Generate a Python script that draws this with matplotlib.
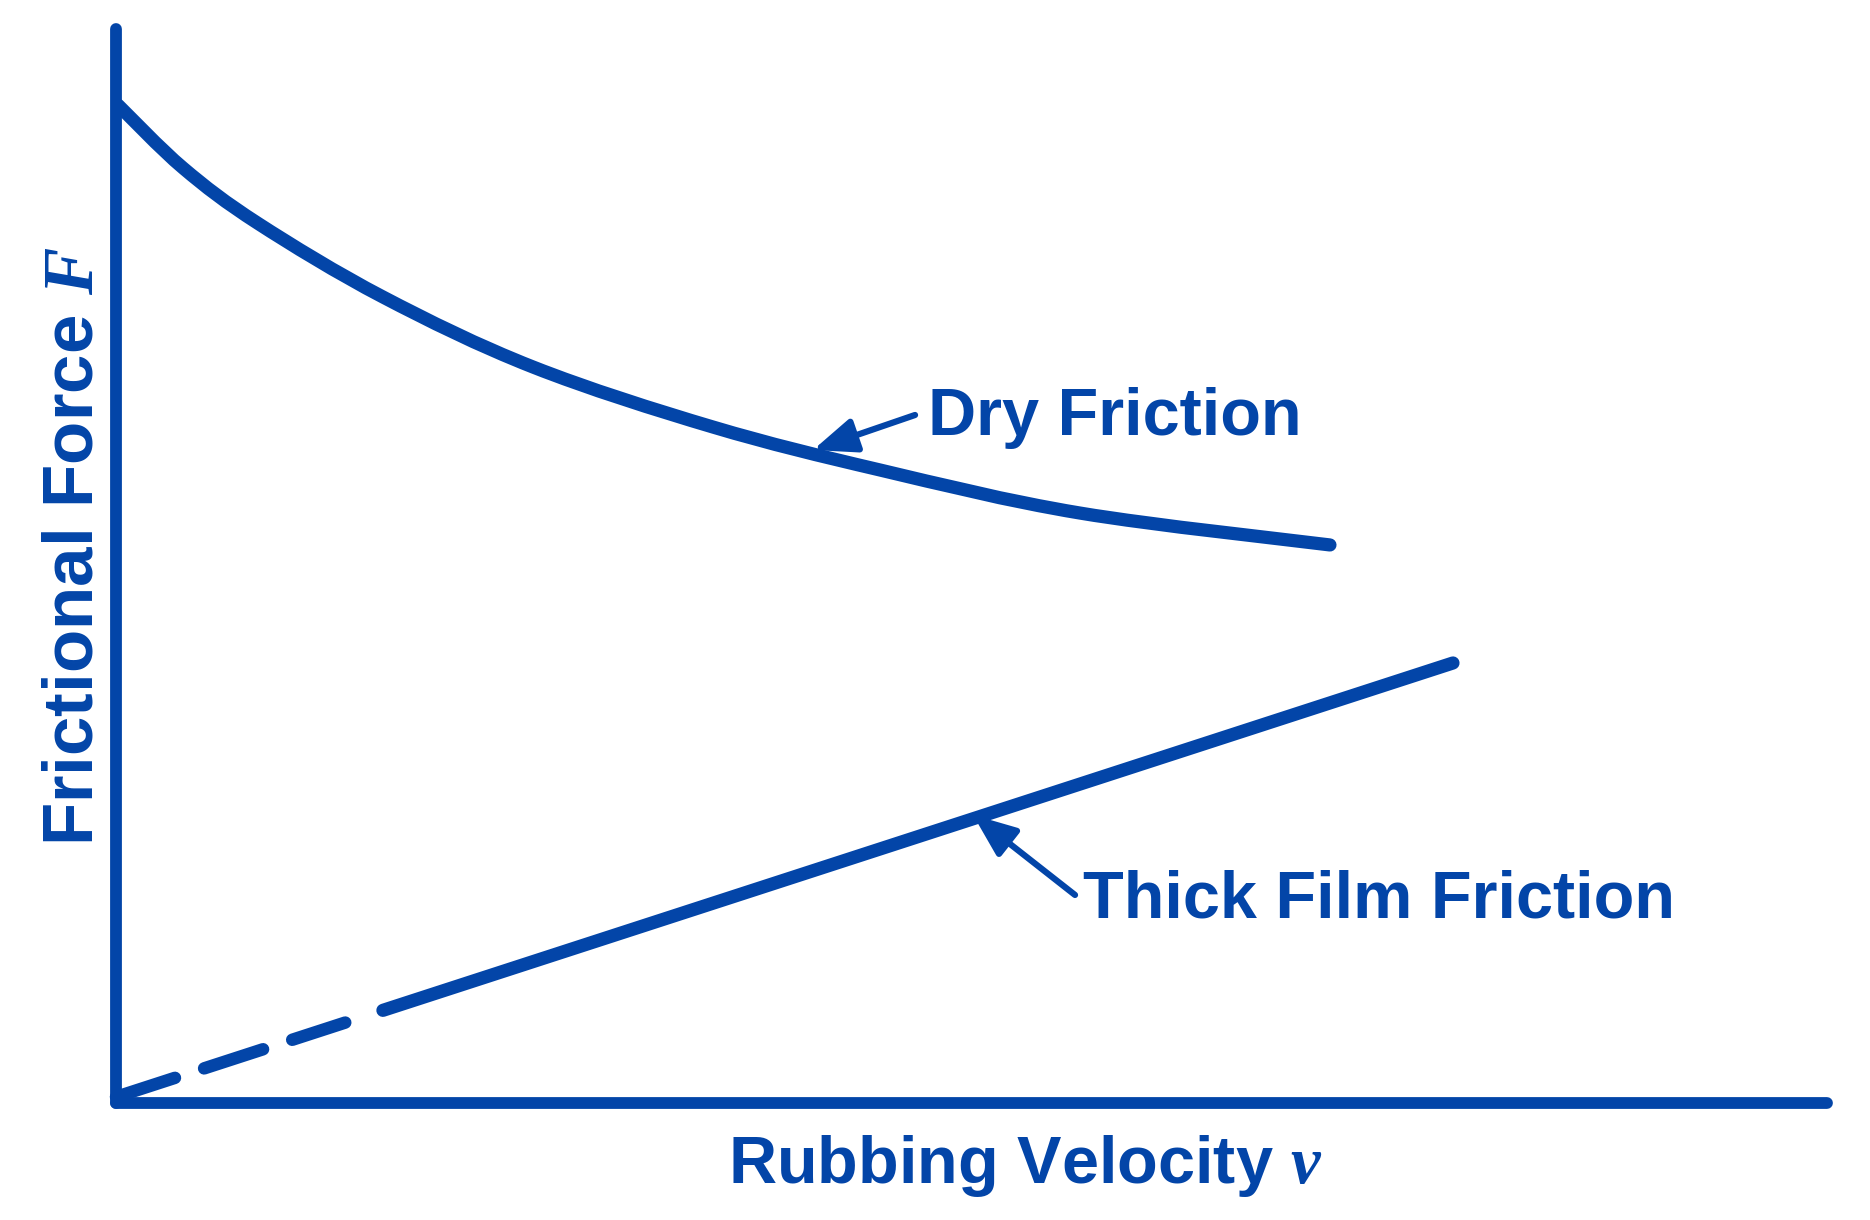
import matplotlib
matplotlib.use("Agg")
import matplotlib.pyplot as plt
from matplotlib.path import Path
from matplotlib.patches import PathPatch

plt.rcParams['font.family'] = ['Liberation Sans', 'DejaVu Sans']
plt.rcParams['mathtext.fontset'] = 'custom'
plt.rcParams['mathtext.it'] = 'Liberation Serif:italic:bold'

BLUE = '#0345A8'

# ---- data (arbitrary units: velocity 0..100, force 0..100) ----
dry_v = [0.12, 3.92, 8.30, 15.60, 24.37, 34.89, 44.65, 56.34, 70.95]
dry_f = [92.92, 87.06, 81.90, 75.05, 68.53, 62.94, 58.94, 54.93, 51.96]

thick_v = [0.0, 78.14]
thick_f = [0.56, 40.97]
thick_dash_end_v = 13.4     # dashed portion: 0 .. 13.4
thick_solid_start_v = 15.6  # solid portion: 15.6 .. end

labels = ['Dry Friction', 'Thick Film Friction']
label_pos = [(47.46, 62.2), (56.52, 17.23)]
arrow_tail = [(46.7, 64.06), (56.05, 19.37)]
arrow_tip = [(40.74, 60.80), (50.09, 26.82)]

xlabel = 'Rubbing Velocity $v$'
ylabel = 'Frictional Force $F$'

W, H = 1870, 1220
fig = plt.figure(figsize=(W / 100, H / 100), dpi=100)
ax = fig.add_axes([116 / W, 117 / H, 1711 / W, 1074 / H])
ax.set_xlim(0, 100)
ax.set_ylim(0, 100)

for s in ['top', 'right']:
    ax.spines[s].set_visible(False)
for s in ['left', 'bottom']:
    ax.spines[s].set_color(BLUE)
    ax.spines[s].set_linewidth(8.5)
    ax.spines[s].set_capstyle('round')
ax.set_xticks([])
ax.set_yticks([])

# Dry friction curve: smooth cubic path through the read points
pts = list(zip(dry_v, dry_f))
verts = [pts[0]]
codes = [Path.MOVETO]
n = len(pts)
for i in range(n - 1):
    p0 = pts[max(i - 1, 0)]
    p1 = pts[i]
    p2 = pts[i + 1]
    p3 = pts[min(i + 2, n - 1)]
    c1 = (p1[0] + (p2[0] - p0[0]) / 6, p1[1] + (p2[1] - p0[1]) / 6)
    c2 = (p2[0] - (p3[0] - p1[0]) / 6, p2[1] - (p3[1] - p1[1]) / 6)
    verts += [c1, c2, p2]
    codes += [Path.CURVE4] * 3
patch = PathPatch(Path(verts, codes), facecolor='none', edgecolor=BLUE, lw=9.5,
                  capstyle='round', joinstyle='round', clip_on=False)
ax.add_patch(patch)

# Thick film friction: dashed near the origin, solid afterwards
slope = (thick_f[1] - thick_f[0]) / (thick_v[1] - thick_v[0])
def thick_at(v):
    return thick_f[0] + slope * (v - thick_v[0])

ax.plot([thick_v[0], thick_dash_end_v], [thick_f[0], thick_at(thick_dash_end_v)],
        color=BLUE, lw=9, linestyle=(0, (4.96, 2.45)), dash_capstyle='round', clip_on=False)
ax.plot([thick_solid_start_v, thick_v[1]], [thick_at(thick_solid_start_v), thick_f[1]],
        color=BLUE, lw=9.5, solid_capstyle='round', clip_on=False)

# Labels with arrows
for lab, (tx, ty), tail, tip in zip(labels, label_pos, arrow_tail, arrow_tip):
    ax.annotate('', xy=tip, xytext=tail,
                arrowprops=dict(arrowstyle='-|>,head_length=2.6,head_width=1.05',
                                color=BLUE, lw=4.5, shrinkA=0, shrinkB=0,
                                capstyle='round', joinstyle='round'))
    ax.text(tx, ty, lab, color=BLUE, fontsize=48, fontweight='bold',
            ha='left', va='baseline')

fig.text(1025 / W, 1 - 1183 / H, xlabel, color=BLUE, fontsize=48, fontweight='bold',
         ha='center', va='baseline')
fig.text(93 / W, 1 - 546 / H, ylabel, color=BLUE, fontsize=51, fontweight='bold',
         ha='center', va='baseline', rotation=90, rotation_mode='anchor')

fig.savefig('out.png', dpi=100, facecolor='white')
